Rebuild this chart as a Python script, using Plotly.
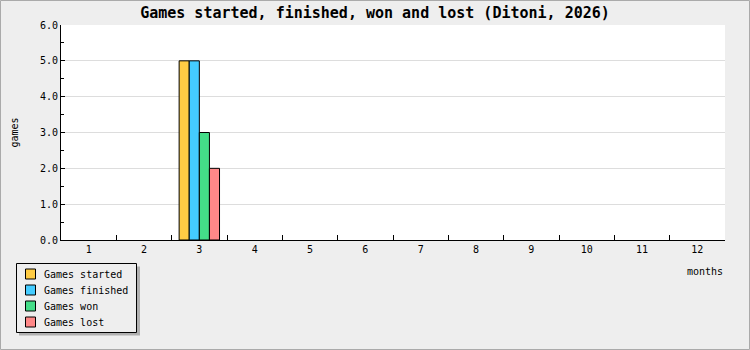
import plotly.graph_objects as go

months = [str(m) for m in range(1, 13)]
started = [0, 0, 5, 0, 0, 0, 0, 0, 0, 0, 0, 0]
finished = [0, 0, 5, 0, 0, 0, 0, 0, 0, 0, 0, 0]
won = [0, 0, 3, 0, 0, 0, 0, 0, 0, 0, 0, 0]
lost = [0, 0, 2, 0, 0, 0, 0, 0, 0, 0, 0, 0]

series = [
    ("Games started", started, "#ffcc44"),
    ("Games finished", finished, "#44ccff"),
    ("Games won", won, "#44dd88"),
    ("Games lost", lost, "#ff8888"),
]

W, H = 750, 350
L, R, T, B = 61, 25, 25, 110
PW, PH = W - L - R, H - T - B

def px(x):
    return (x - L) / PW

def py(y):
    return (H - B - y) / PH

font = "DejaVu Sans Mono"
fig = go.Figure()
for name, vals, col in series:
    fig.add_trace(go.Bar(x=months, y=[v if v else None for v in vals], name=name,
                         marker=dict(color=col, line=dict(color="black", width=1))))

shapes = [
    dict(type="rect", xref="paper", yref="paper", x0=px(0.5), x1=px(749.5), y0=py(349.5), y1=py(0.5),
         fillcolor="rgba(0,0,0,0)", line=dict(color="#aaaaaa", width=1), layer="below"),
    dict(type="rect", xref="paper", yref="paper", x0=px(19), x1=px(140), y0=py(335.5), y1=py(266.5),
         fillcolor="#b0b0b0", line=dict(width=0)),
    dict(type="rect", xref="paper", yref="paper", x0=px(16.5), x1=px(136.5), y0=py(332.5), y1=py(263.5),
         fillcolor="#eeeeee", line=dict(color="black", width=1)),
]
annotations = [dict(text="months", xref="paper", yref="paper", x=px(725), y=py(271),
                    xanchor="right", yanchor="middle", showarrow=False,
                    font=dict(family=font, size=10))]
for i, (name, vals, col) in enumerate(series):
    cy = 274 + 16 * i
    shapes.append(dict(type="rect", xref="paper", yref="paper", x0=px(25.5), x1=px(35.5),
                       y0=py(cy + 5), y1=py(cy - 5), fillcolor=col,
                       line=dict(color="black", width=1)))
    annotations.append(dict(text=name, xref="paper", yref="paper", x=px(42), y=py(cy),
                            xanchor="left", yanchor="middle", showarrow=False,
                            font=dict(family=font, size=10)))

fig.update_layout(
    width=W, height=H,
    margin=dict(l=L, r=R, t=T, b=B),
    paper_bgcolor="#eeeeee", plot_bgcolor="white",
    barmode="group", bargap=0.27, bargroupgap=0,
    font=dict(family=font, size=10, color="black"),
    title=dict(text="<b>Games started, finished, won and lost (Ditoni, 2026)</b>",
               x=0.5, xanchor="center", y=1 - 13 / H, yanchor="middle",
               font=dict(family=font, size=15, color="black")),
    showlegend=False,
    xaxis=dict(type="category", tickson="boundaries", ticks="inside", ticklen=5,
               tickcolor="black", showline=True, linecolor="black", linewidth=1,
               showgrid=False, tickfont=dict(size=10), zeroline=False, automargin=False),
    yaxis=dict(range=[0, 6], dtick=1, tickformat=".1f", ticks="inside", ticklen=4,
               tickcolor="black", showline=True, linecolor="black", linewidth=1,
               showgrid=True, gridcolor="#dddddd", zeroline=False, automargin=False,
               minor=dict(dtick=0.5, ticks="inside", ticklen=3, tickcolor="black", showgrid=False),
               title=dict(text="games", font=dict(size=10), standoff=19)),
    annotations=annotations,
    shapes=shapes,
)

fig.write_html("out.html")
